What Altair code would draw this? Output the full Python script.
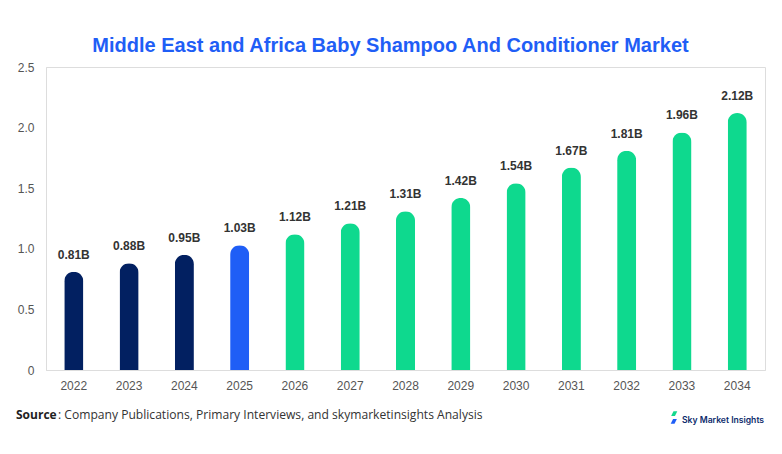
import altair as alt
import pandas as pd

years = ["2022", "2023", "2024", "2025", "2026", "2027", "2028", "2029", "2030", "2031", "2032", "2033", "2034"]
values = [0.81, 0.88, 0.95, 1.03, 1.12, 1.21, 1.31, 1.42, 1.54, 1.67, 1.81, 1.96, 2.12]
groups = ["hist", "hist", "hist", "base", "fc", "fc", "fc", "fc", "fc", "fc", "fc", "fc", "fc"]
labels = [f"{v:.2f}B" for v in values]
y_ticks = [0, 0.5, 1.0, 1.5, 2.0, 2.5]

df = pd.DataFrame({"year": years, "value": values, "group": groups, "label": labels})

color = alt.Color("group:N", scale=alt.Scale(domain=["hist", "base", "fc"],
                                             range=["#022061", "#1F5EF6", "#0ED98E"]), legend=None)

x = alt.X("year:O", title=None, sort=years,
          scale=alt.Scale(paddingInner=0.655, paddingOuter=0.33),
          axis=alt.Axis(labelAngle=0, labelFont="Liberation Sans", labelFontSize=12,
                        labelColor="#555555", ticks=False, domainColor="#dddddd",
                        labelPadding=10))
y = alt.Y("value:Q", title=None, scale=alt.Scale(domain=[0, 2.5], nice=False),
          axis=alt.Axis(values=y_ticks, labelExpr="datum.value == 0 ? '0' : format(datum.value, '.1f')",
                        grid=False, ticks=False, domainColor="#dddddd",
                        labelFont="Liberation Sans", labelFontSize=12, labelColor="#555555",
                        labelPadding=12))

base = alt.Chart(df)
bars = base.mark_bar(cornerRadiusEnd=9.5).encode(x=x, y=y, color=color)
text = base.mark_text(baseline="bottom", dy=-10, font="Liberation Sans", fontWeight="bold",
                      fontSize=12, color="#333333").encode(x=alt.X("year:O", sort=years), y="value:Q", text="label:N")

note = pd.DataFrame({"a": [1]})
src_bold = alt.Chart(note).mark_text(align="left", baseline="middle", font="Open Sans", fontWeight="bold",
                                     fontSize=12, color="#222222").encode(
    x=alt.value(-30), y=alt.value(348), text=alt.value("Source"))
src_rest = alt.Chart(note).mark_text(align="left", baseline="middle", font="Open Sans",
                                     fontSize=12.1, color="#333333").encode(
    x=alt.value(12), y=alt.value(348), text=alt.value(": Company Publications, Primary Interviews, and skymarketinsights Analysis"))
logo_txt = alt.Chart(note).mark_text(align="left", baseline="middle", font="Inter", fontWeight=600,
                                     fontSize=8.6, color="#0B2A6B").encode(
    x=alt.value(636), y=alt.value(353), text=alt.value("Sky Market Insights"))
logo_g = alt.Chart(note).mark_point(shape="M-0.1,-1 L0.7,-1 L0.2,0 L-0.6,0 Z", filled=True, size=90,
                                    color="#14D98E", opacity=1).encode(x=alt.value(628), y=alt.value(349))
logo_b = alt.Chart(note).mark_point(shape="M-0.2,0 L0.6,0 L0.1,1 L-0.7,1 Z", filled=True, size=90,
                                    color="#1F5EF6", opacity=1).encode(x=alt.value(628), y=alt.value(352))

chart = alt.layer(bars, text, src_bold, src_rest, logo_g, logo_b, logo_txt).properties(
    width=719, height=303,
    title=alt.TitleParams("Middle East and Africa Baby Shampoo And Conditioner Market",
                          font="Liberation Sans", fontSize=20, fontWeight="bold", color="#1F5EF6",
                          anchor="middle", frame="bounds", offset=5),
    autosize=alt.AutoSizeParams(type="none"),
    padding={"left": 38, "top": 59, "right": 8, "bottom": 68},
).configure_view(stroke=None).configure(background="white")

chart.save("out.html", embed_options={"renderer": "svg", "actions": False})
